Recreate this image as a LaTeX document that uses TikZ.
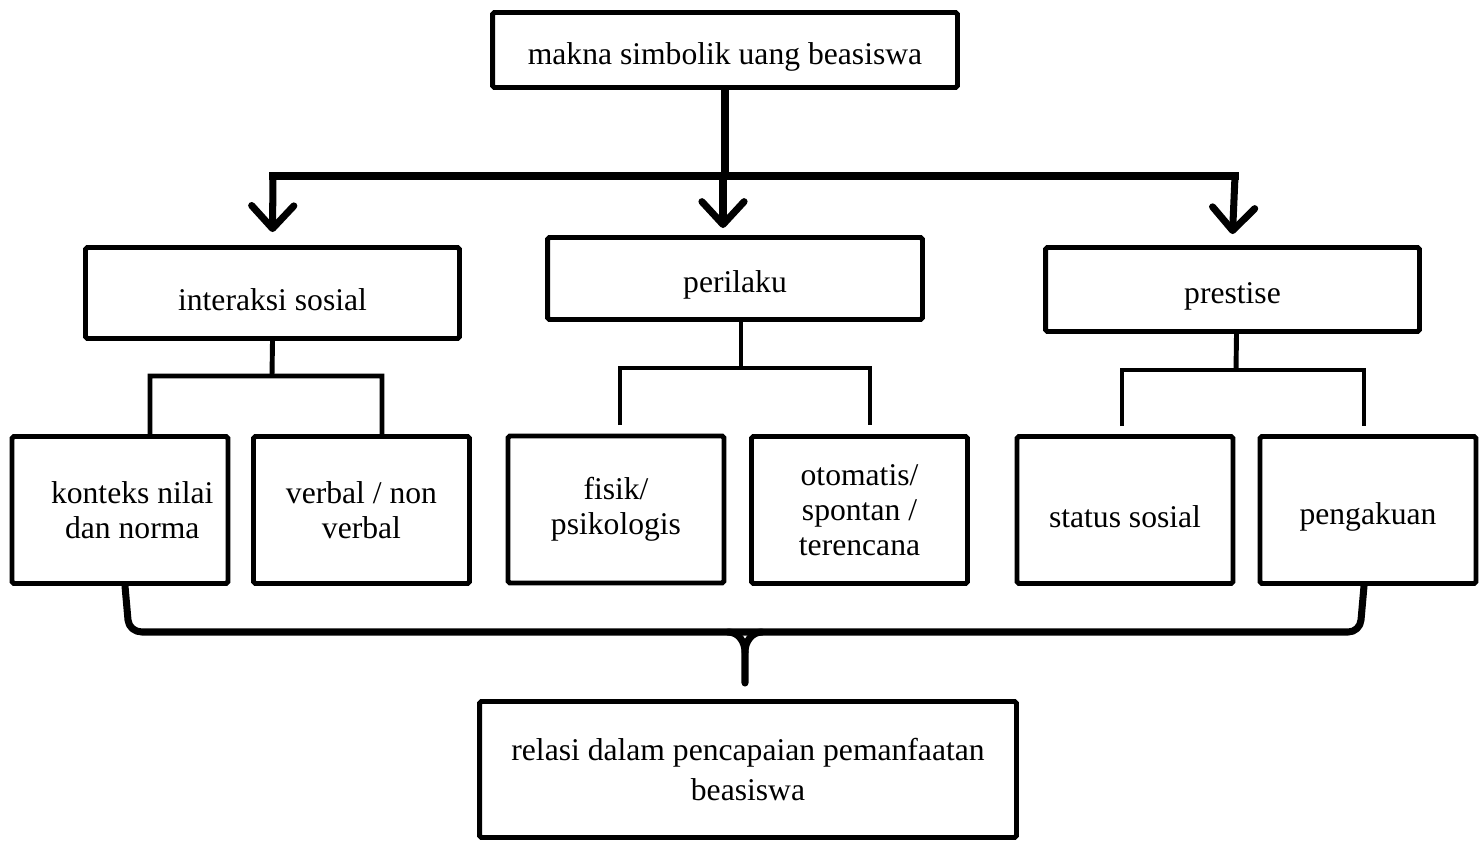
\documentclass[tikz,border=0pt]{standalone}
\usepackage{fontspec}
\setmainfont{Liberation Serif}
\usetikzlibrary{arrows.meta, calc}
\tikzstyle{arrow} = [line width=4pt, -{Straight Barb[length=13pt,width=24pt,round]}]

\begin{document}
\begin{tikzpicture}[x=0.02cm, y=-0.02cm,
	box/.style={rectangle, draw=black, line width=2.8pt, rounded corners=1pt, align=center, font=\fontsize{18}{20}\selectfont, inner sep=2pt, execute at begin node={\rule{0pt}{20pt}}},
	wide/.style={box, minimum width=7.48cm, minimum height=1.7cm},
	small/.style={box, minimum width=4.32cm, minimum height=2.94cm},
	link/.style={line width=2.8pt},
	bus/.style={line width=4pt},
	brace/.style={line width=4pt, line cap=round, line join=round}
]
\useasboundingbox (0,0) rectangle (1480,842);

% Top
\node[box, minimum width=9.3cm, minimum height=1.5cm] (top) at (725,50) {makna simbolik uang beasiswa};

% Aspects
\node[wide, minimum height=1.82cm] (inter) at (272.5,293) {interaksi sosial};
\node[wide, minimum width=7.5cm, minimum height=1.64cm] (perilaku) at (735,278.5) {perilaku};
\node[wide, minimum height=1.68cm] (prestise) at (1232.5,289.5) {prestise};

% Details
\node[small] (konteks) at (120,510) {\hspace{14pt}konteks nilai\\\hspace{14pt}dan norma};
\node[small] (verbal) at (361.5,510) {verbal / non\\verbal};
\node[small] (fisik) at (616,509.5) {fisik/\\psikologis};
\node[small] (otomatis) at (859.5,510) {otomatis/\\spontan /\\terencana};
\node[small] (status) at (1125,510) {status sosial};
\node[small] (pengakuan) at (1368,510) {pengakuan};

% Result
\node[box, minimum width=10.74cm, minimum height=2.72cm] (relasi) at (748,769.5) {relasi dalam pencapaian pemanfaatan\\[3pt]beasiswa};

% Bus with arrows
\coordinate (busL) at (273,176);
\coordinate (busM) at (723,176);
\coordinate (busR) at (1235,176);
\draw[bus] (top.south) -- (top.south |- busM);
\draw[bus, line cap=rect] (busL) -- (busR);
\draw[arrow] (busL) -- ($(inter.north)+(0,-13)$);
\draw[arrow] (busM) -- (723,228);
\draw[arrow] (busR) -- ($(prestise.north)+(0,-11)$);

% Sub links
\draw[link] (inter.south) -- (272,376);
\draw[link] ($(konteks.north)+(30,0)$) |- (382,376) -- ($(verbal.north)+(20.5,0)$);
\draw[link] ($(perilaku.south)+(6,0)$) -- (741,368);
\draw[link] (620,425) |- (870,368) -- (870,425);
\draw[link] ($(prestise.south)+(4,0)$) -- (1236,370);
\draw[link] (1122,426) |- (1364,370) -- (1364,426);

% Brace
\draw[brace] ($(konteks.south)+(5,0)$) -- (128,620) to[out=-85,in=180] (142,632)
	-- (1348,632) to[out=0,in=-95] (1361,620) -- ($(pengakuan.south)+(-4,0)$);
\draw[brace] (728,632) to[out=0,in=90] (745,652) -- (745,683);
\draw[brace] (762,632) to[out=180,in=90] (745,652);

\end{tikzpicture}
\end{document}
